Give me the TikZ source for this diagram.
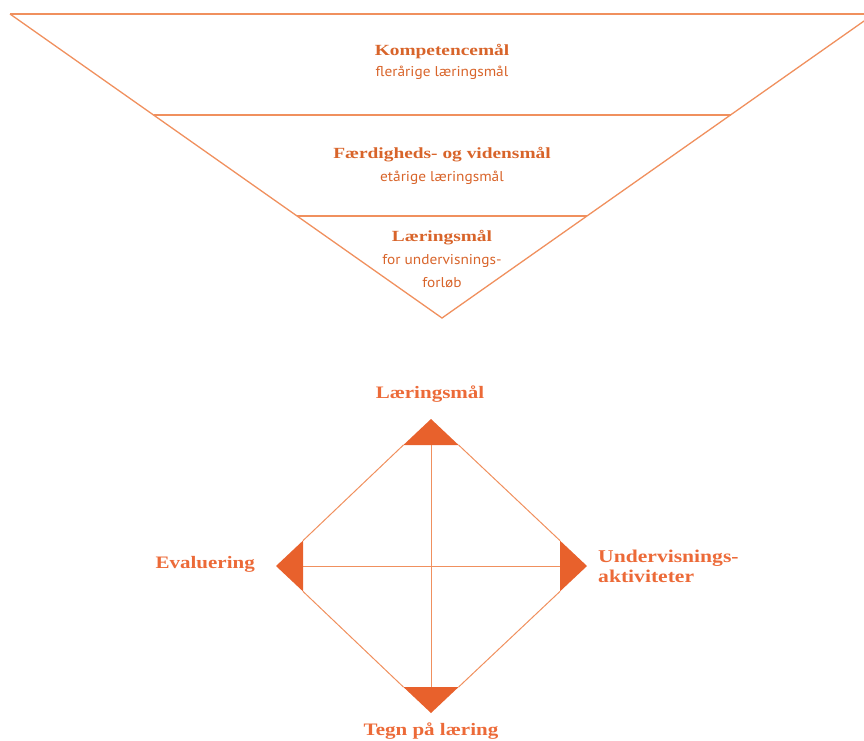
\documentclass[tikz,border=0pt]{standalone}
\usepackage{fontspec}
\setmainfont{Liberation Serif}
\newfontfamily\headfont{Liberation Serif}[FakeStretch=1.25]
\newfontfamily\labfont{Liberation Serif}[FakeStretch=1.2]
\newfontfamily\subfont{PT Sans}[FakeStretch=1.08]
\usetikzlibrary{calc}
\definecolor{lineor}{HTML}{F0905E}
\definecolor{txtor}{HTML}{D8642A}
\definecolor{labor}{HTML}{EC6A38}
\definecolor{fillor}{HTML}{E8612C}
\begin{document}
\begin{tikzpicture}[x=1pt,y=-1pt,
  edge/.style={draw=lineor,line width=1.3pt},
  level/.style={draw=lineor,line width=1.8pt},
  dline/.style={draw=lineor,line width=1pt},
  cornercap/.style={fill=fillor,draw=none},
  head/.style={text=txtor,font=\headfont\bfseries\fontsize{15.5}{18}\selectfont,inner sep=0pt},
  sub/.style={text=txtor,font=\subfont\fontsize{14.2}{16}\selectfont,inner sep=0pt},
  lab/.style={text=labor,font=\labfont\bfseries\fontsize{17.5}{19}\selectfont,inner sep=0pt}]
\useasboundingbox (0,0) rectangle (864,740);
% inverted triangle
\coordinate (tl) at (10,14);
\coordinate (tr) at (874,14);
\coordinate (ap) at (442,318);
\coordinate (l2a) at (153.5,115); \coordinate (l2b) at (730.5,115);
\coordinate (l3a) at (297,216); \coordinate (l3b) at (587,216);
\draw[edge] (tl) -- (tr);
\draw[edge] (tl) -- (ap) -- (tr);
\draw[level] (l2a) -- (l2b);
\draw[level] (l3a) -- (l3b);
\node[head] (k1) at (442,52) {Kompetencemål};
\node[sub] (k2) at (442,73) {flerårige læringsmål};
\node[head] (f1) at (442,155) {Færdigheds- og vidensmål};
\node[sub] (f2) at (442,178) {etårige læringsmål};
\node[head] (m1) at (442,238) {Læringsmål};
\node[sub] (m2) at (442,261) {for undervisnings-};
\node[sub] (m3) at (442,283) {forløb};
% diamond
\coordinate (T) at (431,419);
\coordinate (B) at (431,713);
\coordinate (L) at (276,566);
\coordinate (R) at (587,566);
\coordinate (Ta) at (403.4,445); \coordinate (Tb) at (458.6,445); \coordinate (Tc) at (431,445);
\coordinate (Ba) at (403.4,687); \coordinate (Bb) at (458.6,687); \coordinate (Bc) at (431,687);
\coordinate (La) at (303,540.6); \coordinate (Lb) at (303,591.4); \coordinate (Lc) at (303,566);
\coordinate (Ra) at (560,540.6); \coordinate (Rb) at (560,591.4); \coordinate (Rc) at (560,566);
\draw[dline] (Tb) -- (Ra) (Rb) -- (Bb) (Ba) -- (Lb) (La) -- (Ta);
\draw[dline] (Tc) -- (Bc) (Lc) -- (Rc);
\fill[cornercap] (T) -- (Ta) -- (Tb) -- cycle;
\fill[cornercap] (B) -- (Ba) -- (Bb) -- cycle;
\fill[cornercap] (L) -- (La) -- (Lb) -- cycle;
\fill[cornercap] (R) -- (Ra) -- (Rb) -- cycle;
\node[lab] (nT) at (430,394) {Læringsmål};
\node[lab,anchor=east] (nL) at (255,564) {Evaluering};
\node[lab,anchor=west,align=left,font=\labfont\bfseries\fontsize{18}{20}\selectfont] (nR) at (598,566) {Undervisnings-\\aktiviteter};
\node[lab] (nB) at (431,731) {Tegn på læring};
\end{tikzpicture}
\end{document}
